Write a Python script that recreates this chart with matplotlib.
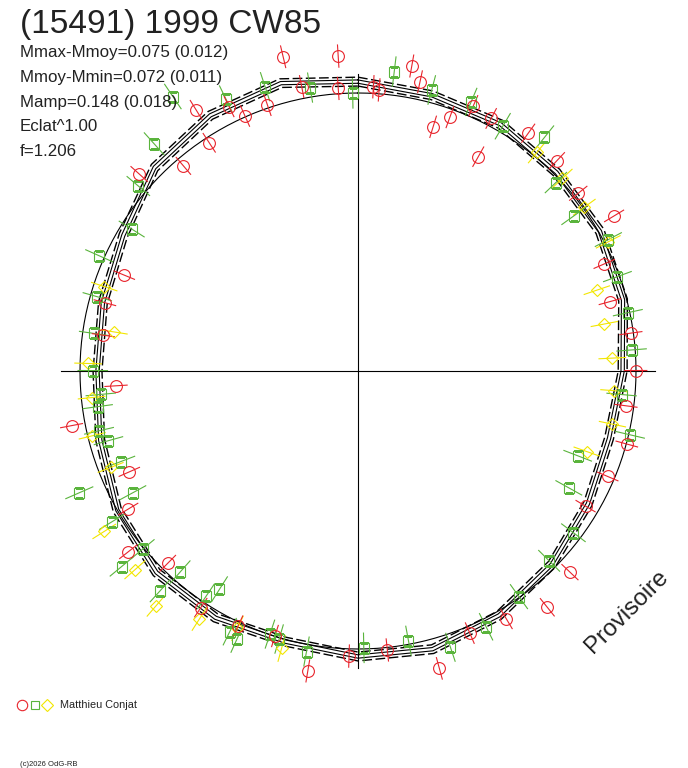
import numpy as np
import matplotlib
matplotlib.use("Agg")
import matplotlib.pyplot as plt
from matplotlib.lines import Line2D

plt.rcParams['font.family'] = ['Liberation Sans', 'DejaVu Sans']

# ---------------- data (phase in degrees, relative brightness "Eclat") ----------------
title = "(15491) 1999 CW85"
info_lines = ["Mmax-Mmoy=0.075 (0.012)",
              "Mmoy-Mmin=0.072 (0.011)",
              "Mamp=0.148 (0.018)",
              "Eclat^1.00",
              "f=1.206"]
observer = "Matthieu Conjat"
copyright_txt = "(c)2026 OdG-RB"
watermark = "Provisoire"

red_phase = [346.6, 356.4, 10.0, 12.1, 348.8, 356.0, 3.1, 4.3, 334.0, 341.2, 336.1, 328.2,
             326.9, 17.1, 19.9, 23.5, 319.6, 29.3, 312.0, 292.3, 285.1, 278.0, 266.5, 259.2,
             246.2, 239.0, 231.8, 224.7, 213.6, 205.2, 197.4, 189.5, 181.8, 174.0, 164.7,
             156.9, 149.1, 141.3, 133.5, 120.7, 112.9, 105.2, 97.4, 89.9, 82.1, 74.6, 66.5,
             58.8, 51.1, 43.4, 35.6, 27.8]
red_flux = [1.162, 1.135, 1.114, 1.064, 1.043, 1.019, 1.024, 1.014, 1.058, 1.011, 1.003, 1.105,
            0.980, 0.919, 0.971, 1.040, 0.969, 0.884, 1.059, 0.909, 0.943, 0.925, 0.872, 1.049,
            0.899, 0.964, 1.051, 0.973, 1.022, 1.014, 0.999, 1.094, 1.026, 1.009, 1.109,
            1.025, 1.040, 1.089, 1.051, 0.952, 0.975, 1.002, 0.972, 0.999, 0.991, 0.940, 0.966,
            1.077, 1.018, 1.041, 1.052, 1.027]

green_phase = [6.9, 350.4, 358.9, 341.9, 334.1, 14.7, 22.8, 326.0, 318.1, 310.1, 302.1, 294.0,
               285.9, 278.1, 270.1, 264.8, 262.2, 257.0, 254.4, 249.1, 246.4, 241.6, 238.5,
               230.4, 230.4, 221.5, 222.0, 214.0, 212.4, 206.2, 204.3, 198.5, 196.4, 190.4,
               178.8, 169.4, 161.5, 153.4, 144.5, 134.8, 126.9, 119.0, 111.1, 103.2, 95.1,
               85.6, 77.8, 70.0, 62.3, 54.3, 46.4, 38.6, 30.6]
green_flux = [1.085, 1.034, 0.999, 1.076, 1.087, 1.045, 1.050, 1.191, 1.098, 1.033, 0.961, 1.019,
              0.975, 0.959, 0.954, 0.929, 0.945, 0.956, 0.932, 0.913, 1.094, 0.921, 1.037,
              1.005, 1.104, 0.965, 1.064, 0.977, 0.930, 1.045, 1.057, 0.998, 1.005, 1.026,
              0.996, 0.987, 1.048, 1.029, 0.997, 0.969, 0.969, 0.867, 0.847, 1.005, 0.952,
              0.987, 0.993, 0.993, 1.017, 0.956, 0.983, 1.075, 1.023]

yellow_phase = [288.4, 279.1, 271.6, 264.3, 256.3, 248.7, 237.7, 228.3, 220.7, 212.6, 205.1,
                195.4, 109.4, 101.8, 94.4, 87.1, 79.2, 71.3, 62.7, 54.1, 46.7, 39.3]
yellow_flux = [0.962, 0.889, 0.971, 0.963, 0.984, 0.955, 1.080, 1.075, 1.115, 1.059, 1.022,
               1.035, 0.872, 0.935, 0.924, 0.916, 0.902, 0.907, 1.013, 1.005, 1.010, 1.016]

red_err, green_err, yellow_err = 0.042, 0.055, 0.05

fit_phase = [0, 15, 30, 45, 60, 75, 90, 105, 120, 135, 150, 165, 180, 195, 210, 225, 240,
             255, 270, 285, 300, 315, 330, 345]
fit_flux = [1.041, 1.027, 1.025, 1.010, 1.005, 0.987, 0.952, 0.935, 0.955, 0.985, 1.015,
            1.036, 1.027, 1.008, 1.025, 1.025, 1.000, 0.960, 0.937, 0.950, 0.975, 1.035,
            1.062, 1.072]
fit_band_solid = 0.006
fit_band_dashed = 0.016
mean_flux = 1.0
axis_extent = 1.068

RED = '#e8242c'
GREEN = '#5ab43c'
YELLOW = '#f2e600'
TXT = '#222222'

# ---------------- figure ----------------
W, H = 688, 768
fig = plt.figure(figsize=(W / 100, H / 100), dpi=100)
R_PX = 278.0
cx, cy = 358.0, 371.0
rmax = 1.3
half = rmax * R_PX
ax = fig.add_axes([(cx - half) / W, (H - cy - half) / H, 2 * half / W, 2 * half / H],
                  projection='polar')
ax.set_theta_zero_location('N')
ax.set_theta_direction(-1)
ax.set_ylim(0, rmax)
ax.set_axis_off()

# cross axes
for a in [0, 90, 180, 270]:
    t = np.deg2rad(a)
    ax.plot([t, t], [0, axis_extent], color='black', lw=0.8, zorder=1)

# mean circle
tt = np.deg2rad(np.arange(0, 361, 1))
ax.plot(tt, np.full_like(tt, mean_flux), color='black', lw=0.8, zorder=2)

# fit curves
fp = np.deg2rad(np.array(fit_phase + [360]))
ff = np.array(fit_flux + [fit_flux[0]])
for off in (-fit_band_solid, fit_band_solid):
    ax.plot(fp, ff + off, color='black', lw=0.8, zorder=2)
for off in (-fit_band_dashed, fit_band_dashed):
    ax.plot(fp, ff + off, color='black', lw=1.0, ls=(0, (7, 2.5)), zorder=2)

# data points
def pts(ph, fl, err, marker, color, ms):
    ax.errorbar(np.deg2rad(ph), fl, yerr=err, fmt=marker, mfc='none', mec=color,
                mew=0.8, ms=ms, ecolor=color, elinewidth=0.8, capsize=0, zorder=4)

pts(yellow_phase, yellow_flux, yellow_err, 'D', YELLOW, 6.5)
pts(green_phase, green_flux, green_err, 's', GREEN, 7)
pts(red_phase, red_flux, red_err, 'o', RED, 8.5)

# ---------------- texts ----------------
fig.text(20 / W, 1 - 33.5 / H, title, fontsize=24, color=TXT, va='baseline', ha='left')
for i, s in enumerate(info_lines):
    fig.text(20 / W, 1 - (57.5 + 24.5 * i) / H, s, fontsize=12.2, color=TXT,
             va='baseline', ha='left')

fig.text(627 / W, 1 - 612 / H, watermark, fontsize=17.5, color=TXT, rotation=45,
         ha='center', va='center', rotation_mode='anchor')

# legend
ly = 1 - 705 / H
fig.add_artist(Line2D([22 / W], [ly], marker='o', mfc='none', mec=RED, ms=7.5, mew=0.8,
                      transform=fig.transFigure))
fig.add_artist(Line2D([35 / W], [ly], marker='s', mfc='none', mec=GREEN, ms=6, mew=0.8,
                      transform=fig.transFigure))
fig.add_artist(Line2D([47 / W], [ly], marker='D', mfc='none', mec=YELLOW, ms=6, mew=0.8,
                      transform=fig.transFigure))
fig.text(60 / W, ly, observer, fontsize=7.8, color=TXT, va='center', ha='left')
fig.text(20 / W, 1 - 766 / H, copyright_txt, fontsize=5.5, color=TXT, va='baseline',
         ha='left')

fig.savefig('out.png', dpi=100)
